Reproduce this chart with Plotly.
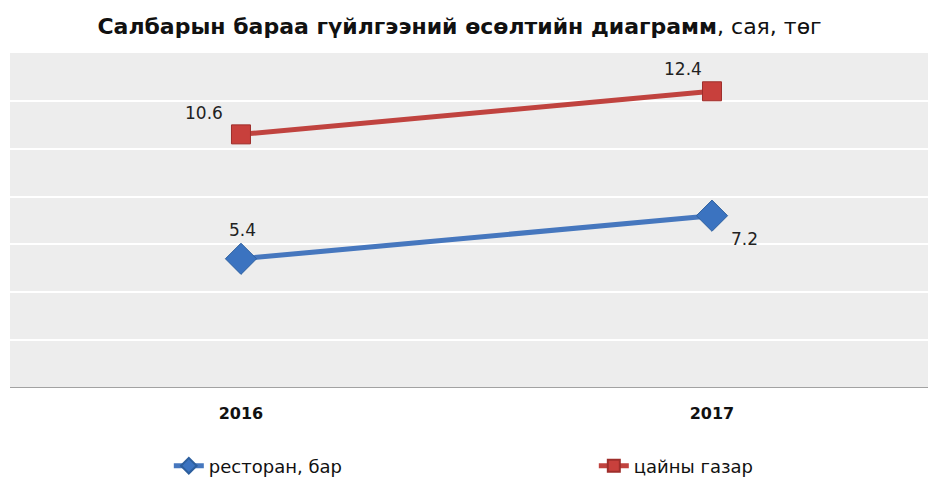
import plotly.graph_objects as go

years = ["2016", "2017"]
restoran_bar = [5.4, 7.2]
tsainy_gazar = [10.6, 12.4]
series_names = ["ресторан, бар", "цайны газар"]
title_bold = "Салбарын бараа гүйлгээний өсөлтийн диаграмм"
title_rest = ", сая, төг"

x_idx = list(range(len(years)))
label_font = dict(family="DejaVu Sans", size=17, color="#222222")

fig = go.Figure()
fig.add_trace(go.Scatter(
    x=x_idx, y=restoran_bar, name=series_names[0], mode="lines+markers",
    line=dict(color="#4677be", width=5),
    marker=dict(symbol="diamond", size=24, color="#3b73c0", line=dict(color="#2d5f9e", width=1)),
    legendwidth=380, cliponaxis=False,
))
fig.add_trace(go.Scatter(
    x=x_idx, y=tsainy_gazar, name=series_names[1], mode="lines+markers",
    line=dict(color="#c0433f", width=5),
    marker=dict(symbol="square", size=19, color="#c8403c", line=dict(color="#9e2e2b", width=1)),
    legendwidth=200, cliponaxis=False,
))

# data labels (positioned at the data points, offset in pixels)
shifts_blue = [(2, 29), (33, -23)]
shifts_red = [(-37, 21), (-29, 22)]
for xi, v, (dx, dy) in zip(x_idx, restoran_bar, shifts_blue):
    fig.add_annotation(x=xi, y=v, text=str(v), showarrow=False, xshift=dx, yshift=dy, font=label_font)
for xi, v, (dx, dy) in zip(x_idx, tsainy_gazar, shifts_red):
    fig.add_annotation(x=xi, y=v, text=str(v), showarrow=False, xshift=dx, yshift=dy, font=label_font)

title_txt = "<b>" + title_bold + "</b>" + title_rest
fig.update_layout(
    width=920, height=469,
    margin=dict(l=2, r=0, t=45, b=89, autoexpand=False),
    paper_bgcolor="white", plot_bgcolor="#ededed",
    title=dict(text=title_txt, x=0.4908, xanchor="center", y=0.962, yanchor="middle",
               font=dict(family="DejaVu Sans, sans-serif", size=22, color="#111111")),
    showlegend=True,
    legend=dict(orientation="h", x=0.173, xanchor="left", y=0.0235, yanchor="middle", yref="container",
                font=dict(family="DejaVu Sans", size=18, color="#111111"),
                bgcolor="rgba(0,0,0,0)", itemsizing="constant"),
    xaxis=dict(range=[-0.4904, 1.4586], tickmode="array", tickvals=x_idx, ticktext=["<b>" + y + "</b>" for y in years],
               showgrid=False, zeroline=False, showline=False, ticks="", automargin=False,
               tickfont=dict(family="DejaVu Sans", size=16, color="#111111")),
    yaxis=dict(range=[0, 14], dtick=2, showgrid=True, gridcolor="white", gridwidth=1.5,
               showticklabels=False, zeroline=False, showline=False, ticks="", automargin=False),
    font=dict(family="DejaVu Sans"),
)
fig.add_shape(type="line", xref="paper", yref="y", x0=0, x1=1, y0=0, y1=0,
              line=dict(color="#888888", width=1.5))
fig.update_xaxes(ticklabelstandoff=14)

fig.write_html("out.html")
